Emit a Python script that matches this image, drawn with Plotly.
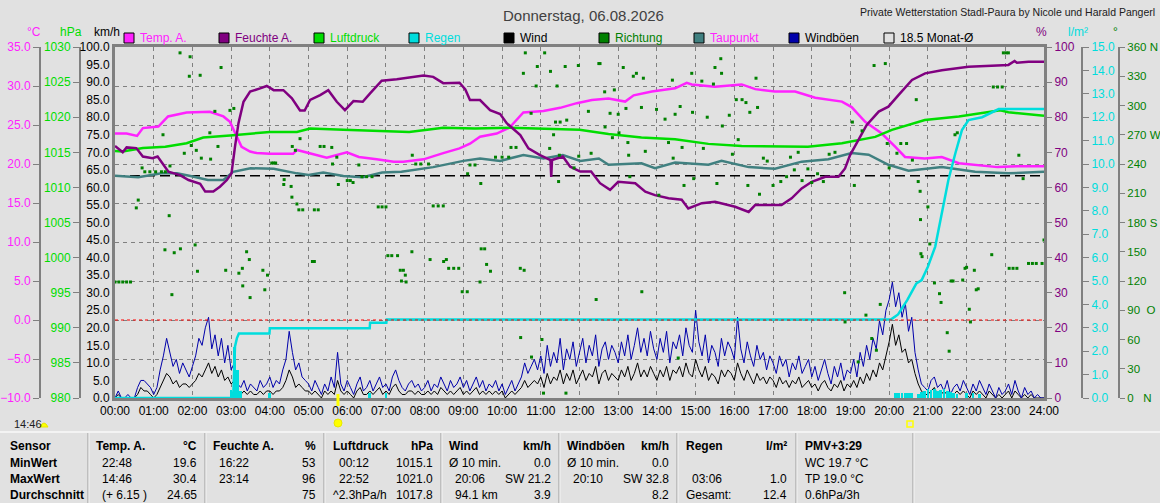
import numpy as np
import plotly.graph_objects as go

W, H = 1160, 503

# --- Daten (Zeit in Stunden, Wert) ---
stunden = [f"{h:02d}:00" for h in range(25)]

temp = [(0, 23.9), (0.3, 23.9), (0.57, 23.6), (0.72, 24.6), (1.12, 24.8), (1.37, 26.1), (1.85, 26.6),
        (2.45, 26.7), (2.8, 26.1), (2.97, 25.4), (3.1, 24.0), (3.27, 22.2), (3.49, 21.6), (3.66, 21.4),
        (4.0, 21.3), (4.6, 21.3), (4.7, 21.8), (5.0, 21.4), (5.47, 20.8), (5.99, 21.5), (6.3, 20.9),
        (6.76, 20.6), (7.2, 20.3), (7.45, 20.3), (7.97, 20.6), (8.48, 21.4), (8.9, 22.0), (9.17, 22.6),
        (9.43, 23.5), (9.86, 23.9), (10.2, 24.7), (10.55, 26.6), (11.07, 26.8), (11.5, 27.2), (11.93, 27.8),
        (12.32, 28.2), (12.75, 28.4), (13.18, 28.0), (13.4, 28.8), (13.87, 29.3), (14.47, 29.7), (14.77, 30.4),
        (14.9, 30.2), (15.5, 29.9), (16.19, 30.2), (16.54, 29.6), (17.05, 29.3), (17.57, 29.3), (18.09, 28.5),
        (18.78, 28.0), (19.03, 27.3), (19.38, 25.4), (19.81, 23.9), (20.16, 22.2), (20.41, 20.9), (20.92, 20.7),
        (21.36, 20.9), (21.8, 20.1), (22.22, 19.9), (22.8, 19.6), (23.3, 19.7), (24, 19.7)]

feuchte = [(0, 71.8), (0.2, 70.0), (0.3, 71.4), (0.55, 71.2), (0.72, 68.8), (0.97, 68.3), (1.1, 68.8),
           (1.38, 64.5), (1.68, 63.5), (1.9, 62.1), (2.2, 61.0), (2.33, 58.8), (2.54, 58.8), (2.71, 60.2),
           (2.89, 62.1), (3.01, 64.0), (3.1, 71.6), (3.19, 78.3), (3.32, 84.4), (3.49, 87.3), (3.75, 88.2),
           (3.92, 88.9), (4.1, 87.7), (4.35, 87.7), (4.57, 85.4), (4.78, 81.9), (4.9, 81.9), (5.04, 84.9),
           (5.3, 86.3), (5.51, 87.7), (5.73, 84.4), (5.94, 82.0), (6.16, 84.6), (6.4, 84.4), (6.59, 86.8),
           (6.89, 90.4), (7.28, 90.8), (7.8, 91.7), (7.97, 91.9), (8.22, 91.5), (8.48, 89.7), (8.9, 89.8),
           (9.05, 87.9), (9.17, 84.9), (9.43, 84.9), (9.69, 82.0), (9.95, 80.9), (10.12, 78.3), (10.47, 74.9),
           (10.68, 71.1), (10.98, 69.2), (11.25, 67.8), (11.27, 63.0), (11.29, 67.8), (11.57, 68.8),
           (11.76, 65.9), (12.02, 64.5), (12.3, 64.5), (12.53, 61.2), (12.79, 59.3), (13.0, 61.6),
           (13.44, 61.2), (13.7, 58.8), (13.95, 57.8), (14.3, 56.9), (14.64, 56.5), (14.81, 54.0),
           (15.16, 55.5), (15.5, 55.9), (16.02, 54.5), (16.37, 53.0), (16.54, 55.0), (17.22, 55.0),
           (17.48, 56.9), (17.74, 59.7), (18.0, 61.6), (18.35, 63.0), (18.69, 63.0), (18.86, 65.4),
           (18.99, 69.2), (19.21, 73.5), (19.42, 77.8), (19.73, 81.6), (19.98, 83.0), (20.24, 86.3),
           (20.59, 90.6), (20.93, 92.5), (21.36, 93.4), (22.05, 94.4), (23.08, 94.9), (23.24, 96.0),
           (23.3, 95.5), (23.6, 95.8), (24, 95.8)]

luftdruck = [(0, 1015.2), (0.2, 1015.1), (0.72, 1015.6), (1.3, 1015.8), (1.85, 1016.3), (2.28, 1017.1),
             (2.97, 1017.4), (3.32, 1017.6), (4.0, 1017.9), (4.7, 1017.9), (5.04, 1018.4), (5.9, 1018.2),
             (6.76, 1018.1), (7.6, 1017.9), (8.48, 1018.5), (9.3, 1018.4), (10.2, 1018.5), (11.07, 1018.4),
             (12.0, 1018.2), (12.75, 1017.6), (13.6, 1017.1), (14.47, 1016.85), (15.33, 1016.2),
             (16.19, 1015.9), (17.05, 1015.8), (17.9, 1015.8), (18.78, 1016.3), (19.3, 1016.85),
             (19.64, 1017.2), (20.07, 1018.2), (20.5, 1018.9), (20.92, 1019.6), (21.8, 1020.1),
             (22.67, 1020.8), (22.87, 1021.0), (23.08, 1020.7), (24, 1020.2)]

taupunkt = [(0, 18.5), (0.6, 18.3), (1.2, 18.8), (1.6, 18.8), (1.95, 18.45), (2.4, 17.95), (2.8, 17.95),
            (3.05, 19.0), (3.5, 19.45), (4.1, 19.4), (4.7, 18.8), (5.0, 18.6), (5.38, 18.9), (5.9, 18.45),
            (6.4, 18.3), (6.9, 18.9), (7.4, 19.0), (7.97, 19.4), (8.22, 19.6), (9.0, 20.4), (9.43, 20.7),
            (9.95, 20.4), (10.55, 21.15), (11.07, 20.7), (11.57, 21.15), (12.02, 20.4), (12.5, 20.7),
            (12.75, 19.9), (13.6, 20.1), (13.95, 19.45), (14.47, 20.2), (15.33, 19.9), (15.67, 20.4),
            (16.37, 19.6), (17.05, 19.4), (17.74, 20.3), (18.43, 20.6), (19.03, 21.4), (19.47, 21.2),
            (19.98, 19.9), (20.5, 19.15), (21.36, 19.6), (22.22, 19.0), (23.08, 18.8), (24, 19.0)]

regen_summe = [(0, 0), (3.03, 0), (3.06, 0.3), (3.1, 2.2), (3.15, 2.56), (3.2, 2.76), (3.99, 2.76),
               (4.0, 2.98), (6.58, 2.98), (6.59, 3.22), (7.01, 3.22), (7.02, 3.36), (20.05, 3.36),
               (20.23, 3.57), (20.47, 4.19), (20.7, 4.89), (20.84, 5.04), (21.0, 5.61), (21.19, 6.47),
               (21.36, 7.89), (21.53, 9.32), (21.71, 10.46), (21.88, 11.45), (22.05, 11.88), (22.4, 12.0),
               (22.83, 12.35), (24, 12.35)]

regen_intervall = [(3.0, 0.35), (3.083, 2.2), (3.167, 1.2), (3.25, 0.3), (4.0, 0.2), (6.583, 0.2), (7.0, 0.2),
                   (20.167, 0.2), (20.25, 0.2), (20.333, 0.2), (20.417, 0.2), (20.5, 0.2), (20.583, 0.2),
                   (20.75, 0.15), (20.833, 0.25), (20.917, 0.3), (21.0, 0.4), (21.083, 0.35), (21.167, 0.4),
                   (21.25, 0.3), (21.333, 0.35), (21.417, 0.4), (21.5, 0.3), (21.583, 0.25), (21.667, 0.2),
                   (21.75, 0.15), (22.0, 0.2), (22.167, 0.2), (22.333, 0.15)]

# Windböen und Wind im 5-Minuten-Takt (je Zeile eine Stunde)
windboeen = [
    0, 2, 0, 0, 1, 0, 0, 3, 5, 5, 4, 3,
    1, 3, 8, 12, 17, 13, 9, 11, 7, 10, 8, 6,
    9, 12, 17, 15, 20, 23, 14, 18, 12, 17, 10, 15,
    8, 10, 4, 3, 5, 2, 4, 3, 2, 5, 3, 4,
    6, 3, 5, 4, 8, 11, 19, 13, 8, 10, 6, 5,
    4, 2, 5, 3, 1, 4, 2, 6, 3, 13, 4, 2,
    5, 3, 1, 4, 6, 2, 3, 5, 2, 4, 6, 3,
    4, 2, 6, 8, 5, 3, 2, 4, 5, 3, 4, 2,
    3, 5, 2, 4, 3, 6, 4, 2, 5, 3, 4, 6,
    3, 5, 2, 4, 6, 3, 5, 2, 4, 3, 5, 2,
    4, 1, 3, 5, 2, 4, 6, 10, 7, 9, 11, 8,
    12, 7, 15, 9, 13, 10, 17, 8, 14, 11, 16, 9,
    13, 17, 10, 15, 12, 18, 9, 14, 16, 11, 15, 13,
    10, 16, 12, 18, 11, 15, 20, 13, 17, 12, 19, 14,
    11, 17, 13, 19, 10, 16, 14, 18, 12, 20, 15, 13,
    25, 16, 12, 18, 10, 15, 13, 9, 17, 12, 16, 14,
    11, 23, 14, 10, 16, 12, 9, 15, 11, 13, 8, 12,
    10, 7, 12, 9, 11, 6, 10, 8, 12, 7, 9, 11,
    6, 9, 5, 8, 11, 7, 4, 9, 6, 10, 5, 8,
    7, 11, 6, 13, 9, 15, 11, 17, 14, 22, 18, 25,
    28, 33, 26, 30, 23, 27, 19, 23, 13, 8, 4, 3,
    2, 5, 6, 3, 4, 2, 5, 1, 3, 4, 2, 5,
    3, 1, 4, 2, 5, 3, 1, 4, 2, 0, 3, 1,
    2, 4, 1, 5, 2, 0, 3, 1, 2, 0, 1, 0,
    0]

wind = [
    0, 1, 0, 0, 0, 0, 0, 1, 3, 2, 2, 1,
    0, 1, 3, 5, 7, 6, 4, 5, 3, 4, 4, 3,
    4, 5, 7, 6, 8, 10, 7, 9, 6, 8, 5, 6,
    4, 5, 2, 1, 2, 1, 2, 1, 1, 2, 1, 2,
    2, 1, 2, 2, 3, 5, 8, 6, 3, 4, 3, 2,
    2, 1, 2, 1, 0, 2, 1, 2, 1, 5, 2, 1,
    2, 1, 0, 2, 3, 1, 1, 2, 1, 2, 3, 1,
    2, 1, 3, 4, 2, 1, 1, 2, 2, 1, 2, 1,
    1, 2, 1, 2, 1, 3, 2, 1, 2, 1, 2, 3,
    1, 2, 1, 2, 3, 1, 2, 1, 2, 1, 2, 1,
    2, 0, 1, 2, 1, 2, 3, 5, 3, 4, 5, 4,
    6, 3, 7, 4, 6, 5, 8, 4, 7, 5, 8, 4,
    6, 8, 5, 7, 6, 9, 4, 7, 8, 5, 7, 6,
    5, 8, 6, 9, 5, 7, 10, 6, 8, 6, 9, 7,
    5, 8, 6, 9, 5, 8, 7, 9, 6, 10, 7, 6,
    11, 8, 6, 9, 5, 7, 6, 4, 8, 6, 8, 7,
    5, 10, 7, 5, 8, 6, 4, 7, 5, 6, 4, 6,
    5, 3, 6, 4, 5, 3, 5, 4, 6, 3, 4, 5,
    3, 4, 2, 4, 5, 3, 2, 4, 3, 5, 2, 4,
    3, 5, 3, 6, 4, 7, 5, 8, 6, 10, 8, 12,
    16, 21, 15, 18, 13, 14, 10, 11, 7, 4, 2, 1,
    1, 2, 3, 1, 2, 1, 2, 0, 1, 2, 1, 2,
    1, 0, 2, 1, 2, 1, 0, 2, 1, 0, 1, 0,
    1, 2, 0, 2, 1, 0, 1, 0, 1, 0, 0, 0,
    0]

richtung = [
    (0.0, 119), (0.1, 119), (0.2, 119), (0.3, 119), (0.4, 119), (0.55, 195), (0.6, 203), (0.7, 236),
    (0.77, 232), (0.9, 232), (1.05, 232), (1.2, 232), (1.3, 232), (1.24, 270), (1.29, 152), (1.4, 187),
    (1.42, 238), (1.47, 106), (1.53, 149), (1.68, 354), (1.69, 153), (1.79, 251), (1.92, 330), (1.94, 350),
    (1.97, 259), (2.07, 157), (2.1, 254), (2.13, 130), (2.2, 331), (2.23, 246), (2.45, 272), (2.47, 245),
    (2.58, 294), (2.66, 258), (2.74, 339), (2.86, 131), (2.97, 295), (3.07, 297), (3.2, 128), (3.29, 133),
    (3.3, 115), (3.4, 150), (3.47, 142), (3.49, 103), (3.82, 131), (3.87, 111), (3.94, 126),
    (4.05, 241), (4.1, 241), (4.15, 241), (4.36, 219), (4.37, 224), (4.55, 217), (4.57, 206), (4.58, 258),
    (4.66, 254), (4.7, 199), (4.78, 266), (4.75, 193), (4.85, 193), (5.1, 140), (5.15, 140), (5.15, 193),
    (5.25, 193), (5.3, 258), (5.4, 258), (5.6, 257), (5.62, 240), (5.73, 247), (5.77, 219), (6.0, 223),
    (6.08, 223), (6.15, 221), (6.3, 239), (6.38, 227), (6.5, 227), (6.64, 227),
    (6.8, 196), (6.9, 196), (7.0, 196), (7.05, 146), (7.15, 146), (7.3, 146), (7.37, 131), (7.45, 131),
    (7.4, 120), (7.5, 126), (7.52, 119), (7.67, 150), (7.68, 249), (7.77, 240), (7.9, 240), (8.1, 240),
    (8.14, 142), (8.22, 197), (8.35, 197), (8.48, 197), (8.49, 140), (8.56, 142), (8.62, 133), (8.75, 133),
    (8.88, 133), (8.97, 109), (9.1, 109), (9.11, 230), (9.17, 239), (9.3, 239), (9.43, 119), (9.45, 220),
    (9.46, 153), (9.55, 153), (9.6, 137), (9.7, 130), (9.83, 247), (10.0, 247), (10.17, 247), (10.23, 257),
    (10.36, 257), (10.47, 133), (10.48, 62), (10.55, 333), (10.6, 354), (10.57, 131), (10.75, 292),
    (10.76, 42), (10.88, 320), (10.91, 340), (11.03, 60), (11.07, 5), (11.1, 354), (11.23, 256), (11.25, 335),
    (11.33, 270), (11.38, 283), (11.42, 320), (11.46, 222), (11.48, 249), (11.5, 283), (11.63, 340),
    (11.65, 5), (11.67, 285), (11.86, 236),
    (11.97, 341), (11.98, 248), (12.23, 294), (12.3, 251), (12.43, 101), (12.5, 343), (12.53, 343),
    (12.65, 314), (12.66, 278), (12.79, 292), (12.85, 267), (12.9, 316), (13.0, 291), (13.02, 272),
    (13.27, 249), (13.13, 339), (13.2, 297), (13.25, 262), (13.3, 227), (13.39, 330), (13.47, 333),
    (13.6, 298), (13.61, 109), (13.65, 328), (13.7, 253), (13.99, 296), (14.05, 208), (14.21, 286),
    (14.3, 262), (14.4, 326), (14.42, 246), (14.47, 291), (14.55, 41), (14.6, 299), (14.65, 257),
    (14.7, 218), (14.9, 333), (14.92, 293), (14.95, 225), (15.16, 325), (15.2, 256), (15.3, 288),
    (15.46, 322), (15.5, 339), (15.55, 220), (15.65, 348), (15.67, 333), (15.69, 279), (15.87, 290),
    (15.95, 250), (16.05, 306), (16.1, 265), (16.2, 306), (16.3, 303), (16.35, 218), (16.4, 293),
    (16.56, 328), (16.6, 298), (16.65, 209), (16.75, 246), (16.85, 243), (17.0, 218), (17.2, 222),
    (17.35, 227), (17.45, 247), (17.55, 234), (17.65, 252), (17.75, 223), (17.9, 235), (18.0, 221),
    (18.15, 230), (18.3, 222), (18.45, 250), (18.6, 252), (18.85, 108), (18.86, 78), (19.05, 283),
    (19.1, 218), (19.2, 37), (19.3, 274), (19.4, 85), (19.55, 61), (19.61, 341), (19.67, 49), (19.77, 96),
    (19.9, 343), (19.95, 261), (20.0, 236), (20.2, 251), (20.3, 261), (20.45, 261), (20.6, 244), (20.7, 306),
    (20.75, 222), (20.8, 212), (20.81, 183), (20.82, 148), (20.85, 145), (21.0, 196), (21.05, 158),
    (21.17, 118), (21.3, 107), (21.34, 98), (21.5, 67), (21.55, 48), (21.6, 120), (21.65, 120), (21.7, 270),
    (21.76, 272), (21.96, 133), (21.9, 121), (22.0, 134), (22.07, 91), (22.1, 78), (22.2, 131), (22.25, 111),
    (22.3, 112), (22.65, 147), (22.69, 319), (22.8, 319), (22.92, 319), (22.95, 354), (23.02, 354),
    (23.08, 354), (23.1, 133), (23.2, 133), (23.3, 133), (23.46, 225), (23.35, 249), (23.6, 138),
    (23.7, 138), (23.8, 138), (23.95, 138), (24.0, 162)]

monat_mittel = 18.5
sonnenaufgang = 5.76
sonnenuntergang = 20.54

gradtext = ["0\u00a0\u00a0\u00a0N", "30", "60", "90\u00a0\u00a0O", "120", "150", "180 S", "210", "240",
            "270 W", "300", "330", "360 N"]

tabelle_kopf = ["Sensor", "Temp. A.", "Feuchte A.", "Luftdruck", "Wind", "Windböen", "Regen", "PMV+3:29"]
tabelle_einheit = ["", "°C", "%", "hPa", "km/h", "km/h", "l/m²", ""]
zeilen_namen = ["MinWert", "MaxWert", "Durchschnitt"]
zeile_links = [
    ["22:48", "16:22", "00:12", "Ø 10 min.", "Ø 10 min.", "", "WC 19.7 °C"],
    ["14:46", "23:14", "22:52", "20:06", "20:10", "03:06", "TP 19.0 °C"],
    ["(+ 6.15 )", "", "^2.3hPa/h", "94.1 km", "", "Gesamt:", "0.6hPa/3h"],
]
zeile_rechts = [
    ["19.6", "53", "1015.1", "0.0", "0.0", "", ""],
    ["30.4", "96", "1021.0", "SW 21.2", "SW 32.8", "1.0", ""],
    ["24.65", "75", "1017.8", "3.9", "8.2", "12.4", ""],
]

# --- Farben ---
BG = "#e1e1e1"
GRAU = "#808080"
MAGENTA = "#ff22ff"
LILA = "#800080"
HELLGRUEN = "#00dd00"
CYAN = "#00dddd"
DUNKELGRUEN = "#008000"
PETROL = "#408080"
BLAU = "#0000aa"
FONT = "Liberation Sans, Arial, sans-serif"


def px(x):
    return x / W


def py(y):
    return 1 - y / H


def xs(pairs):
    return [p[0] for p in pairs]


def ys(pairs):
    return [p[1] for p in pairs]


fig = go.Figure()

fig.add_trace(go.Scatter(x=xs(richtung), y=ys(richtung), mode="markers", yaxis="y6",
                         marker=dict(symbol="square", size=3, color=DUNKELGRUEN, line=dict(width=0))))
fig.add_trace(go.Bar(x=xs(regen_intervall), y=ys(regen_intervall), yaxis="y5", width=0.07,
                     marker=dict(color=CYAN, line=dict(width=0))))
t5 = np.arange(len(wind)) / 12
fig.add_trace(go.Scatter(x=t5, y=wind, mode="lines", line=dict(color="black", width=1)))
t5b = np.arange(len(windboeen)) / 12
fig.add_trace(go.Scatter(x=t5b, y=windboeen, mode="lines", line=dict(color=BLAU, width=1)))
fig.add_trace(go.Scatter(x=[0, 24], y=[monat_mittel, monat_mittel], mode="lines", yaxis="y2",
                         line=dict(color="black", width=1.5, dash="10px,5px")))
fig.add_trace(go.Scatter(x=xs(taupunkt), y=ys(taupunkt), mode="lines", yaxis="y2",
                         line=dict(color=PETROL, width=2.5)))
fig.add_trace(go.Scatter(x=xs(luftdruck), y=ys(luftdruck), mode="lines", yaxis="y3",
                         line=dict(color=HELLGRUEN, width=2.5)))
fig.add_trace(go.Scatter(x=xs(regen_summe), y=ys(regen_summe), mode="lines", yaxis="y5",
                         line=dict(color=CYAN, width=2.5)))
fig.add_trace(go.Scatter(x=xs(temp), y=ys(temp), mode="lines", yaxis="y2",
                         line=dict(color=MAGENTA, width=2.5)))
fig.add_trace(go.Scatter(x=xs(feuchte), y=ys(feuchte), mode="lines", yaxis="y4",
                         line=dict(color=LILA, width=2.5)))

frei = dict(overlaying="y", anchor="free", showgrid=False, zeroline=False, showline=True, automargin=False,
            linecolor=GRAU, linewidth=2, ticks="outside", ticklen=6, tickcolor=GRAU)

fig.update_layout(
    width=W, height=H, margin=dict(l=0, r=0, t=0, b=0, autoexpand=False),
    paper_bgcolor=BG, plot_bgcolor=BG, showlegend=False, bargap=0,
    font=dict(family=FONT, size=12, color="black"),
    xaxis=dict(domain=[px(115), px(1044)], range=[0, 24], tickvals=list(range(25)), ticktext=stunden,
               showgrid=True, gridcolor=GRAU, griddash="4px,4px", gridwidth=1, zeroline=False, automargin=False,
               showline=True, linecolor=GRAU, linewidth=3, mirror=True, ticks=""),
    yaxis=dict(domain=[py(398), py(47)], range=[0, 100], dtick=5, tickformat=".1f", ticks="", automargin=False,
               showgrid=False, zeroline=False, showline=True, linecolor=GRAU, linewidth=3),
    yaxis2=dict(frei, position=px(40), side="left", range=[-10, 35], dtick=5, tickformat=".1f",
                showgrid=True, gridcolor=GRAU, griddash="4px,4px", gridwidth=1,
                tickfont=dict(color=MAGENTA)),
    yaxis3=dict(frei, position=px(80), side="left", range=[980, 1030], dtick=5, tickformat="d",
                tickfont=dict(color=HELLGRUEN)),
    yaxis4=dict(overlaying="y", anchor="x", side="right", range=[0, 100], dtick=10, showgrid=False,
                zeroline=False, showline=True, linecolor=GRAU, linewidth=3, ticks="outside", ticklen=5,
                automargin=False, tickcolor=GRAU, tickfont=dict(color=LILA)),
    yaxis5=dict(frei, position=px(1082), side="right", range=[0, 15], dtick=1, tickformat=".1f",
                tickfont=dict(color=CYAN)),
    yaxis6=dict(frei, position=px(1119), side="right", range=[0, 360], tickvals=list(range(0, 361, 30)),
                ticktext=gradtext, ticklen=5, tickfont=dict(color=DUNKELGRUEN, size=11.5)),
)

shapes = []
annos = []

# 0 °C Linie
shapes.append(dict(type="line", xref="x", yref="y2", x0=0, x1=24, y0=0, y1=0,
                   line=dict(color="red", width=1, dash="3px,3px")))

# Titel
annos.append(dict(x=px(583), y=py(15), text="Donnerstag, 06.08.2026", font=dict(size=15, color="#404040")))
annos.append(dict(x=px(1157), y=py(12), xanchor="right", text="Private Wetterstation Stadl-Paura by Nicole und Harald Pangerl",
                  font=dict(size=10.5, color="#202020")))

# Einheiten
for txt, x, col in [("°C", 25, MAGENTA), ("hPa", 58, HELLGRUEN), ("km/h", 92, "black"),
                    ("%", 1049, LILA), ("l/m²", 1090, CYAN), ("°", 1120, DUNKELGRUEN)]:
    annos.append(dict(x=px(x), y=py(32), text=txt, font=dict(size=12, color=col)))

# Legende
legende = [("Temp. A.", MAGENTA, MAGENTA), ("Feuchte A.", LILA, LILA), ("Luftdruck", HELLGRUEN, HELLGRUEN),
           ("Regen", CYAN, CYAN), ("Wind", "black", "black"), ("Richtung", DUNKELGRUEN, DUNKELGRUEN),
           ("Taupunkt", PETROL, MAGENTA), ("Windböen", BLAU, "black"), ("18.5 Monat-Ø", None, "black")]
for i, (name, box, txtcol) in enumerate(legende):
    x0 = 124 + 95 * i
    shapes.append(dict(type="rect", xref="paper", yref="paper", x0=px(x0), x1=px(x0 + 10),
                       y0=py(43), y1=py(33), fillcolor=box if box else "rgba(0,0,0,0)",
                       line=dict(color="black", width=1)))
    annos.append(dict(x=px(x0 + 14), y=py(38), xanchor="left", text=name,
                      font=dict(size=12, color=txtcol)))

# Sonnenauf-/untergang
shapes.append(dict(type="line", xref="x", yref="paper", x0=sonnenaufgang, x1=sonnenaufgang,
                   y0=py(406), y1=py(394), line=dict(color="#ffff00", width=3)))
shapes.append(dict(type="circle", xref="paper", yref="paper", x0=px(334), x1=px(342), y0=py(427), y1=py(419),
                   fillcolor="#ffff00", line=dict(color="#e8e800", width=1)))
shapes.append(dict(type="rect", xref="paper", yref="paper", x0=px(907), x1=px(913), y0=py(427), y1=py(421),
                   fillcolor="rgba(0,0,0,0)", line=dict(color="#ffff00", width=1.5)))
annos.append(dict(x=px(12), y=py(424), xanchor="left", text="14:46", font=dict(size=11, color="#202020")))
shapes.append(dict(type="path", xref="paper", yref="paper",
                   path=f"M {px(40)},{py(427)} Q {px(44)},{py(419)} {px(48)},{py(427)} Z",
                   fillcolor="#ffff00", line=dict(color="#e8e800", width=1)))

# Tabelle
shapes.append(dict(type="line", xref="paper", yref="paper", x0=0, x1=1, y0=py(432), y1=py(432),
                   line=dict(color="#f8f8f8", width=1.5)))
for xs_ in [88, 205, 324, 441, 559, 677, 796, 913]:
    shapes.append(dict(type="line", xref="paper", yref="paper", x0=px(xs_), x1=px(xs_), y0=0, y1=py(433),
                       line=dict(color="#9a9a9a", width=1)))
    shapes.append(dict(type="line", xref="paper", yref="paper", x0=px(xs_ + 1), x1=px(xs_ + 1), y0=0,
                       y1=py(433), line=dict(color="#f4f4f4", width=1)))

spalte_x = [8, 94, 211, 331, 447, 565, 684, 803]
spalte_r = [None, 199, 318, 435, 553, 671, 789, None]
zeilen_y = [463, 479, 495]
fett = dict(size=12, color="black", family="Liberation Sans, Arial, sans-serif")
for c, kopf in enumerate(tabelle_kopf):
    annos.append(dict(x=px(spalte_x[c]), y=py(446), xanchor="left", text=f"<b>{kopf}</b>", font=fett))
    if tabelle_einheit[c]:
        annos.append(dict(x=px(spalte_r[c]), y=py(446), xanchor="right",
                          text=f"<b>{tabelle_einheit[c]}</b>", font=fett))
for r, name in enumerate(zeilen_namen):
    annos.append(dict(x=px(8), y=py(zeilen_y[r]), xanchor="left", text=f"<b>{name}</b>", font=fett))
    for c in range(7):
        links = zeile_links[r][c]
        if links:
            einzug = 6 if (links[0].isdigit() or links[0] == "(") and c < 6 else 0
            annos.append(dict(x=px(spalte_x[c + 1] + einzug), y=py(zeilen_y[r]), xanchor="left", text=links,
                              font=dict(size=12, color="black")))
        rechts = zeile_rechts[r][c]
        if rechts:
            annos.append(dict(x=px(spalte_r[c + 1]), y=py(zeilen_y[r]), xanchor="right", text=rechts,
                              font=dict(size=12, color="black")))

for a in annos:
    a.setdefault("xref", "paper")
    a.setdefault("yref", "paper")
    a.setdefault("showarrow", False)
    a.setdefault("yanchor", "middle")

fig.update_layout(shapes=shapes, annotations=annos)

# Seitenrand des Browsers entfernen, damit die Grafik genau ins Fenster passt
fig.write_html("out.html", config={"displayModeBar": False},
               post_script="document.body.style.margin='0';document.body.style.overflow='hidden';")
